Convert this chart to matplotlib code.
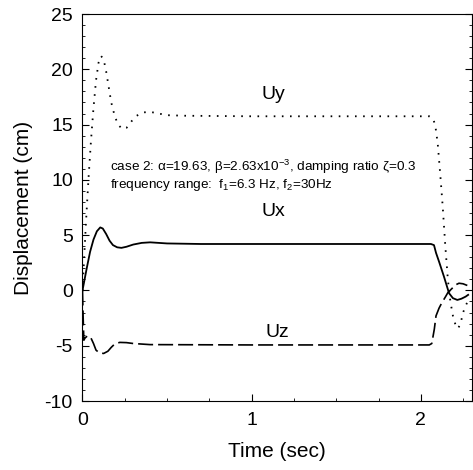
import matplotlib
matplotlib.use("Agg")
import matplotlib.pyplot as plt
from matplotlib.ticker import MultipleLocator

plt.rcParams['font.family'] = ['Liberation Sans', 'DejaVu Sans']
plt.rcParams['axes.unicode_minus'] = False
plt.rcParams['mathtext.fontset'] = 'custom'
plt.rcParams['mathtext.rm'] = 'Liberation Sans'
plt.rcParams['mathtext.it'] = 'Liberation Sans:italic'

# response curves (time in sec, displacement in cm)
t_uy = [0.0, 0.01, 0.02, 0.035, 0.05, 0.065, 0.08, 0.095, 0.11, 0.125, 0.14,
        0.155, 0.17, 0.19, 0.21, 0.235, 0.26, 0.29, 0.32, 0.36, 0.40, 0.45,
        0.5, 0.6, 1.0, 1.5, 2.05, 2.07, 2.085, 2.1, 2.115, 2.13, 2.145, 2.16,
        2.175, 2.19, 2.205, 2.22, 2.235, 2.25, 2.265, 2.28]
uy = [0.0, 3.0, 6.0, 10.0, 13.5, 16.5, 19.0, 20.6, 21.2, 20.9, 19.8,
      18.4, 17.0, 15.8, 15.0, 14.6, 14.7, 15.3, 15.8, 16.1, 16.15, 16.0,
      15.85, 15.8, 15.75, 15.75, 15.75, 15.6, 15.0, 13.3, 10.5, 7.5, 4.0, 1.0,
      -1.0, -2.3, -3.1, -3.45, -3.0, -2.0, -1.4, -0.9]

t_ux = [0.0, 0.01, 0.025, 0.045, 0.065, 0.085, 0.105, 0.12, 0.14, 0.16, 0.18,
        0.205, 0.23, 0.26, 0.3, 0.35, 0.4, 0.5, 0.7, 1.0, 1.5, 2.06, 2.078,
        2.09, 2.108, 2.137, 2.167, 2.19, 2.216, 2.24, 2.265, 2.28]
ux = [0.0, 0.8, 2.0, 3.5, 4.6, 5.35, 5.7, 5.6, 5.1, 4.5, 4.1,
      3.9, 3.85, 3.95, 4.15, 4.3, 4.35, 4.25, 4.2, 4.2, 4.2, 4.2, 4.1,
      3.4, 2.6, 1.25, -0.25, -0.7, -0.86, -0.75, -0.56, -0.4]

t_uz = [0.0, 0.004, 0.008, 0.015, 0.03, 0.05, 0.065, 0.08, 0.1, 0.125, 0.15,
        0.17, 0.19, 0.22, 0.26, 0.3, 0.4, 1.0, 2.05, 2.065, 2.08, 2.09, 2.108,
        2.125, 2.145, 2.16, 2.186, 2.205, 2.226, 2.25, 2.275]
uz = [0.0, -2.5, -4.5, -4.3, -4.1, -4.3, -4.8, -5.4, -5.65, -5.7, -5.5,
      -5.15, -4.85, -4.7, -4.72, -4.8, -4.9, -4.93, -4.93, -4.8, -3.5, -2.3, -1.6,
      -1.1, -0.6, -0.2, 0.2, 0.5, 0.65, 0.6, 0.45]

fig = plt.figure(figsize=(4.73, 4.70), dpi=100)
ax = fig.add_axes([0.1744, 0.1468, 0.8225, 0.8234])

ax.plot(t_uy, uy, color='black', lw=1.3, linestyle=(0, (0.9, 3.6)))
ax.plot(t_ux, ux, color='black', lw=1.3, linestyle='-')
ax.plot(t_uz, uz, color='black', lw=1.2, linestyle=(0, (9, 3)))

ax.text(1.13, 17.7, 'Uy', fontsize=14, ha='center', va='center')
ax.text(1.13, 7.1, 'Ux', fontsize=14, ha='center', va='center')
ax.text(1.15, -3.8, 'Uz', fontsize=14, ha='center', va='center')

ax.text(0.163, 11.17,
        r'case 2: α=19.63, β=2.63x10$^{\mathrm{-3}}$, damping ratio ζ=0.3',
        fontsize=9.7, ha='left', va='center')
ax.text(0.163, 9.5, r'frequency range:  $\mathrm{f}_{1}$=6.3 Hz, $\mathrm{f}_{2}$=30Hz',
        fontsize=9.7, ha='left', va='center')

ax.set_xlim(0, 2.3)
ax.set_ylim(-10, 25)
ax.xaxis.set_major_locator(MultipleLocator(1))
ax.xaxis.set_minor_locator(MultipleLocator(0.25))
ax.yaxis.set_major_locator(MultipleLocator(5))
ax.yaxis.set_minor_locator(MultipleLocator(1))
ax.tick_params(which='both', direction='in', right=True, labelsize=14)
ax.tick_params(which='major', length=5, width=0.8)
ax.tick_params(which='minor', length=2.5, width=0.6)
ax.tick_params(axis='x', pad=8)
ax.tick_params(axis='y', pad=7)

ax.set_xlabel('Time (sec)', fontsize=15, labelpad=9)
ax.set_ylabel('Displacement (cm)', fontsize=15, labelpad=8)

fig.savefig('out.png', dpi=100)
